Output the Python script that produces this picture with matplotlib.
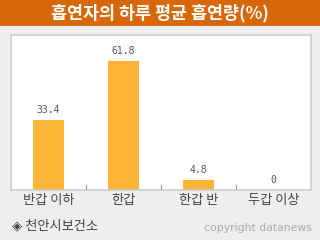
import matplotlib.pyplot as plt
from matplotlib.patches import Rectangle

plt.rcParams['font.family'] = ['Noto Sans CJK KR', 'DejaVu Sans']

# data
categories = ['반갑 이하', '한갑', '한갑 반', '두갑 이상']
values = [33.4, 61.8, 4.8, 0]
value_labels = ['33.4', '61.8', '4.8', '0']
title = '흡연자의 하루 평균 흡연량(%)'
source = '◈ 천안시보건소'
credit = 'copyright datanews'

fig = plt.figure(figsize=(3.2, 2.4), dpi=100)
fig.patch.set_facecolor('#EEEEEE')

# title bar
fig.patches.append(Rectangle((0, 1 - 25.5 / 240), 1, 25.5 / 240, transform=fig.transFigure,
                             facecolor='#D8670A', edgecolor='none', zorder=0))
fig.text(0.5, 1 - 13 / 240, title, color='white', fontsize=12.5, fontweight='bold',
         ha='center', va='center')

ax = fig.add_axes([11 / 320, 50 / 240, 300 / 320, 155 / 240])
ax.set_facecolor('white')
x = range(len(categories))
ax.bar(x, values, width=0.41, color='#FBB436', zorder=2)
for i, v in enumerate(values):
    ax.text(i, v + 2.2, value_labels[i], ha='center', va='bottom', fontsize=7,
            color='#555555', family='DejaVu Sans Mono')

ax.set_xlim(-0.5, len(categories) - 0.5)
ax.set_ylim(0, 74)
ax.set_yticks([])
ax.set_xticks(list(x))
ax.set_xticklabels(categories, fontsize=9.5, color='#444444')
ax.tick_params(axis='x', length=0, pad=3)
for b in [0.5, 1.5, 2.5]:
    ax.plot([b, b], [0, 2.2], color='#999999', lw=0.8, zorder=3)
for s in ax.spines.values():
    s.set_color('#CCCCCC')
    s.set_linewidth(1.2)

fig.text(12 / 320, 1 - 226 / 240, source, fontsize=9.5, color='#444444', va='center', ha='left')
fig.text(312 / 320, 1 - 228 / 240, credit, fontsize=7.8, color='#AAAAAA', va='center', ha='right',
         family='DejaVu Sans')

fig.savefig('out.png', dpi=100, facecolor=fig.get_facecolor())
